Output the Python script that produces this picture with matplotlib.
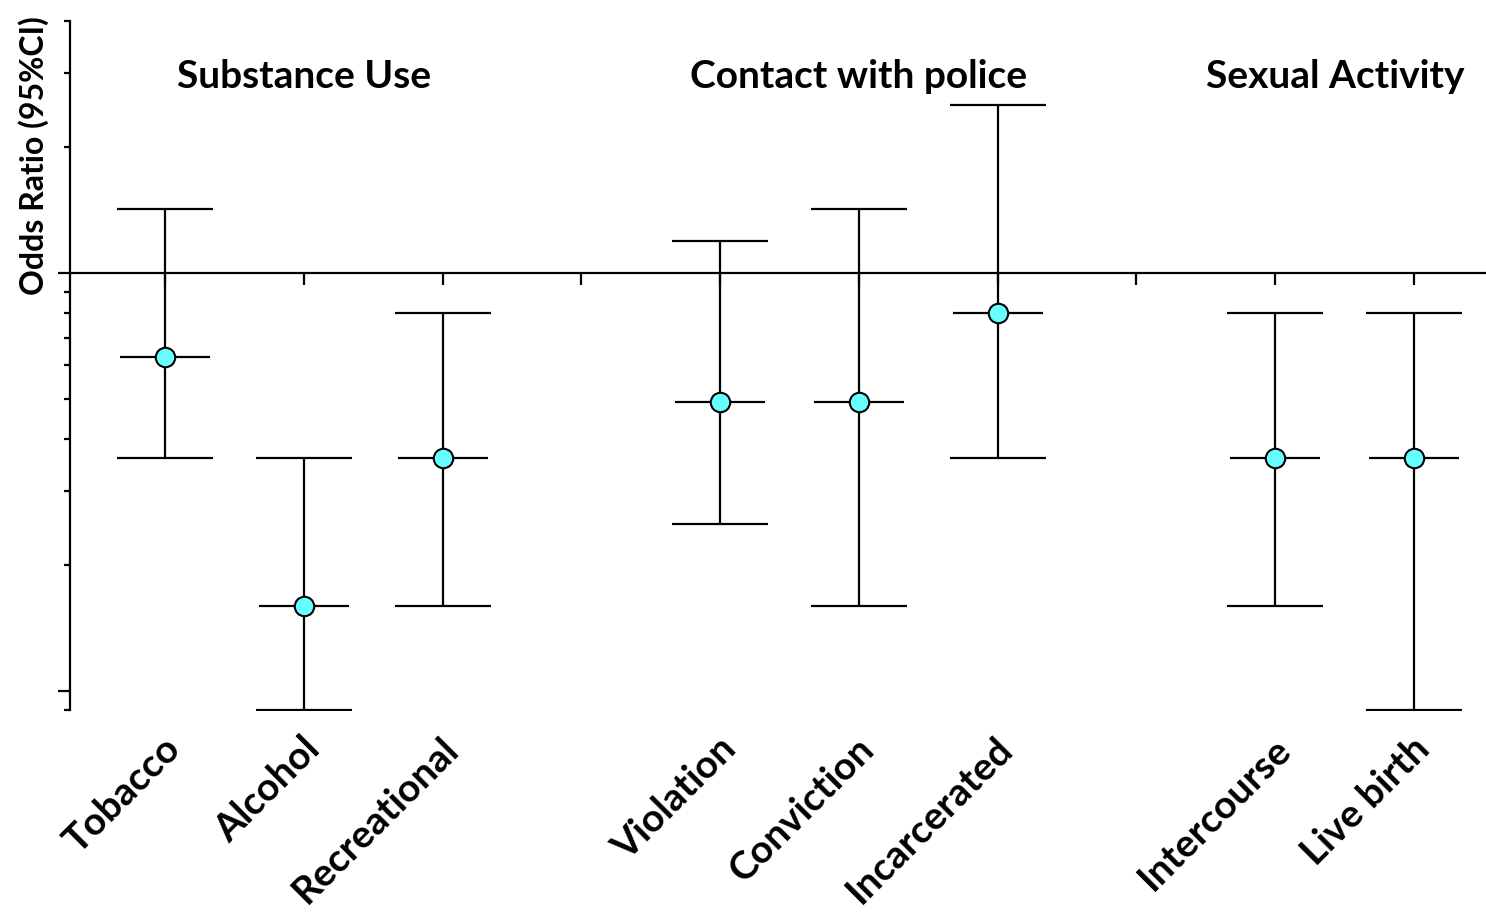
import matplotlib
matplotlib.use("Agg")
import matplotlib.pyplot as plt
from matplotlib.ticker import LogLocator, NullFormatter, FixedLocator

plt.rcParams['font.family'] = ['Lato', 'DejaVu Sans']

# Outcomes and odds ratios with 95% confidence intervals
categories = ["Tobacco", "Alcohol", "Recreational",
              "Violation", "Conviction", "Incarcerated",
              "Intercourse", "Live birth"]
positions = [0, 1, 2, 4, 5, 6, 8, 9]
odds_ratio = [0.63, 0.16, 0.36, 0.49, 0.49, 0.80, 0.36, 0.36]
ci_lower = [0.36, 0.09, 0.16, 0.25, 0.16, 0.36, 0.16, 0.09]
ci_upper = [1.42, 0.36, 0.80, 1.19, 1.42, 2.52, 0.80, 0.80]

groups = ["Substance Use", "Contact with police", "Sexual Activity"]
group_x = [1, 5, 8.43]

x_ticks = [0, 1, 2, 3, 4, 5, 6, 7, 8, 9]

fig = plt.figure(figsize=(14.86, 9.14), dpi=100)
ax = fig.add_axes([70 / 1486, 1 - 710 / 914, 1 - 70 / 1486, (710 - 21) / 914])

lw = 1.6
err_lo = [o - l for o, l in zip(odds_ratio, ci_lower)]
err_hi = [u - o for o, u in zip(odds_ratio, ci_upper)]
ax.errorbar(positions, odds_ratio, yerr=[err_lo, err_hi], fmt='none',
            ecolor='black', elinewidth=lw, capsize=34.5, capthick=lw, zorder=3)
ax.plot(positions, odds_ratio, linestyle='none', marker='_', markersize=65,
        markeredgewidth=lw, color='black', zorder=3)
ax.plot(positions, odds_ratio, linestyle='none', marker='o', markersize=14,
        markerfacecolor='#66FFFF', markeredgecolor='black', markeredgewidth=1.5,
        zorder=4)

ax.set_yscale('log')
ax.set_ylim(0.09, 4)
ax.set_xlim(-0.685, 9.52)

# x axis runs along OR = 1
ax.spines['bottom'].set_position(('data', 1))
ax.spines['top'].set_visible(False)
ax.spines['right'].set_visible(False)
for s in ('left', 'bottom'):
    ax.spines[s].set_linewidth(lw)

ax.xaxis.set_major_locator(FixedLocator(x_ticks))
ax.tick_params(axis='x', which='major', direction='out', length=8.6, width=lw,
               labelbottom=False)
ax.yaxis.set_major_locator(LogLocator(base=10, numticks=10))
ax.yaxis.set_minor_locator(LogLocator(base=10, subs=range(2, 10), numticks=10))
ax.yaxis.set_major_formatter(NullFormatter())
ax.yaxis.set_minor_formatter(NullFormatter())
ax.tick_params(axis='y', which='major', direction='out', length=8.6, width=lw)
ax.tick_params(axis='y', which='minor', direction='out', length=4.3, width=lw)

ax.set_ylabel("Odds Ratio (95%CI)", fontsize=23, fontweight='bold')
ax.yaxis.set_label_coords(-0.015, 0.804)

# Rotated outcome labels beneath the axes
xform = ax.get_xaxis_transform()
for p, name in zip(positions, categories):
    ax.text(p - 0.02, -0.03, name, transform=xform, rotation=45,
            rotation_mode='anchor', ha='right', va='top',
            fontsize=28, fontweight='bold')

for gx, g in zip(group_x, groups):
    ax.text(gx, 2.95, g, ha='center', va='center', fontsize=28,
            fontweight='bold')

fig.savefig("out.png", dpi=100)
